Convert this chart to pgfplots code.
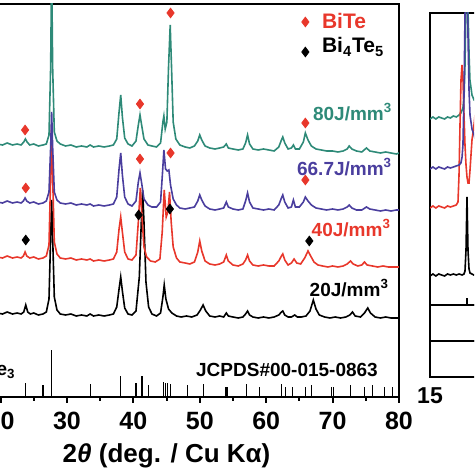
\documentclass[border=0pt]{standalone}
\usepackage{fontspec}
\setmainfont{Liberation Sans}
\usepackage{pgfplots}
\pgfplotsset{compat=1.18}
\definecolor{cgreen}{HTML}{2E8A78}
\definecolor{cblue}{HTML}{4A3E9E}
\definecolor{cred}{HTML}{E8372B}
\begin{document}
\begin{tikzpicture}
\useasboundingbox (0,0) rectangle (237pt,237pt);
\clip (0,0) rectangle (237pt,237pt);
% ---------------- main panel ----------------
\begin{axis}[
  at={(-32.95pt,38.5pt)}, anchor=south west, scale only axis,
  width=232.45pt, height=196.5pt,
  xmin=10, xmax=80, ymin=0, ymax=393,
  xtick={10,20,...,80}, minor x tick num=1, xtick pos=lower, tick align=outside,
  ytick=\empty,
  major tick length=3pt, minor tick length=2pt,
  every tick/.style={black, line width=1pt},
  axis line style={line width=1pt},
  /pgf/number format/assume math mode=true,
  xticklabel style={font=\fontsize{12.5}{14}\selectfont\bfseries, yshift=-1pt},
  xlabel={2\textit{θ} (deg. / Cu Kα)},
  xlabel style={font=\fontsize{13}{15}\selectfont\bfseries, at={(axis description cs:0.5,0)}, anchor=center, yshift=-29.5pt},
  clip=true,
]
% reference sticks (JCPDS#00-015-0863)
\addplot[ycomb, black, line width=0.55pt, mark=none] coordinates {
(23.8,14)(26.4,12)(27.7,47)(33.5,13)(38.0,21)(40.4,14)(41.3,21)(42.3,12)
(44.6,15)(44.9,14)(45.2,14)(45.6,13)(48.2,12)(50.5,13)(53.9,10)(54.1,10)
(57.1,13)(59.0,10)(62.3,13)(62.9,10)(64.0,10)(65.9,10)(66.8,12)(69.9,10)
(70.1,10)(72.7,12)(74.8,10)(76.0,12)(77.8,10)(79.0,10)};
% 20 J/mm3
\addplot[black, line width=0.8pt, mark=none] coordinates {
(19.5,84)(20.3,83)(21.0,85)(21.8,83)(22.5,84)(23.1,83)(23.5,85)(23.8,92)(24.1,85)(24.5,83)(25.0,84)(25.7,82)(26.4,83)(26.9,85)(27.3,98)(27.55,160)(27.7,197)(27.85,160)(28.1,100)(28.5,87)(29.0,83)(29.8,82)(30.6,83)(31.4,81)(32.2,82)(33.0,81)(33.5,83)(34.0,81)(34.8,82)(35.6,81)(36.4,82)(37.0,83)(37.5,90)(37.85,108)(38.1,120)(38.35,106)(38.7,89)(39.2,83)(39.8,82)(40.4,86)(40.9,120)(41.2,175)(41.4,207)(41.6,175)(41.9,115)(42.3,90)(42.8,83)(43.5,81)(44.1,84)(44.45,100)(44.65,112)(44.9,98)(45.3,88)(45.8,84)(46.5,81)(47.2,80)(48.0,81)(48.8,80)(49.6,82)(50.1,87)(50.5,92)(50.9,86)(51.5,81)(52.3,80)(53.0,81)(53.6,80)(54.0,84)(54.3,81)(55.0,80)(55.8,79)(56.5,80)(56.9,83)(57.2,86)(57.5,82)(58.0,80)(58.8,79)(59.6,80)(60.4,79)(61.2,80)(61.9,82)(62.3,85)(62.5,86)(62.8,82)(63.3,80)(63.8,80)(64.3,82)(64.7,80)(65.3,80)(66.0,81)(66.6,86)(67.1,97)(67.5,88)(68.0,82)(68.8,80)(69.6,79)(70.4,80)(71.2,79)(72.0,80)(72.6,82)(73.0,85)(73.4,81)(74.2,80)(74.8,84)(75.3,89)(75.7,84)(76.4,80)(77.2,79)(78.0,80)(78.8,79)(79.6,79)(80.0,79)};
% 40 J/mm3
\addplot[cred, line width=0.8pt, mark=none] coordinates {
(19.5,140)(20.3,139)(21.0,141)(21.8,139)(22.5,140)(23.1,139)(23.45,141)(23.7,145)(23.95,141)(24.4,139)(25.0,140)(25.7,138)(26.4,139)(26.9,141)(27.3,152)(27.55,220)(27.7,272)(27.85,220)(28.1,155)(28.5,143)(29.0,139)(29.8,138)(30.6,139)(31.4,137)(32.2,138)(33.0,137)(33.5,138)(34.0,136)(34.8,137)(35.6,136)(36.4,137)(37.0,138)(37.5,145)(37.85,168)(38.1,180)(38.35,165)(38.7,145)(39.2,138)(39.8,137)(40.4,142)(40.75,175)(41.05,209)(41.3,180)(41.6,150)(42.0,140)(42.6,136)(43.3,135)(44.0,138)(44.35,165)(44.65,207)(44.95,180)(45.2,185)(45.45,205)(45.7,175)(46.0,150)(46.5,139)(47.0,135)(47.8,134)(48.5,133)(49.2,135)(49.7,145)(50.0,156)(50.3,146)(50.8,136)(51.5,133)(52.3,132)(53.0,133)(53.6,135)(54.0,142)(54.3,136)(55.0,132)(55.8,131)(56.5,133)(56.9,137)(57.2,142)(57.5,136)(58.0,132)(58.8,131)(59.6,132)(60.4,131)(61.2,131)(61.9,136)(62.3,141)(62.5,143)(62.8,137)(63.3,132)(63.8,134)(64.2,138)(64.6,134)(65.2,133)(65.8,139)(66.3,146)(66.7,141)(67.2,135)(67.8,132)(68.5,131)(69.3,130)(70.0,131)(70.8,130)(71.6,131)(72.2,133)(72.7,136)(73.1,133)(73.8,131)(74.4,132)(74.8,135)(75.2,132)(76.0,131)(76.8,130)(77.6,131)(78.4,130)(79.2,130)(80.0,130)};
% 80 J/mm3
\addplot[cgreen, line width=0.8pt, mark=none] coordinates {
(19.5,253)(20.3,252)(21.0,254)(21.8,252)(22.5,253)(23.1,252)(23.5,255)(23.75,258)(24.0,255)(24.4,252)(25.0,253)(25.7,251)(26.4,252)(26.9,253)(27.3,262)(27.55,330)(27.7,430)(27.85,330)(28.1,265)(28.5,256)(29.0,253)(29.8,251)(30.6,252)(31.4,250)(32.2,251)(33.0,250)(33.5,252)(34.0,250)(34.8,251)(35.6,250)(36.4,251)(37.0,252)(37.5,258)(37.85,285)(38.1,302)(38.35,280)(38.7,259)(39.2,253)(39.8,251)(40.4,256)(40.75,272)(41.0,282)(41.25,272)(41.6,258)(42.2,252)(42.8,251)(43.5,250)(44.1,254)(44.45,275)(44.6,281)(44.8,268)(45.05,275)(45.3,330)(45.55,372)(45.75,330)(46.0,275)(46.4,258)(47.0,252)(47.8,250)(48.5,249)(49.2,251)(49.7,256)(50.0,262)(50.3,257)(50.8,251)(51.5,249)(52.3,248)(53.0,249)(53.6,250)(54.0,253)(54.3,249)(55.0,248)(55.8,247)(56.5,248)(56.9,254)(57.2,262)(57.5,253)(58.0,248)(58.8,247)(59.6,248)(60.4,247)(61.2,246)(61.9,250)(62.3,257)(62.5,260)(62.8,254)(63.3,248)(63.8,249)(64.1,252)(64.4,248)(65.0,248)(65.6,255)(65.9,264)(66.3,257)(66.8,251)(67.5,248)(68.3,247)(69.1,246)(70.0,246)(70.8,245)(71.6,246)(72.2,248)(72.5,251)(72.9,248)(73.6,246)(74.4,245)(75.1,249)(75.6,246)(76.4,245)(77.2,244)(78.0,245)(78.8,244)(79.6,243)(80.0,244)};
% 66.7 J/mm3
\addplot[cblue, line width=0.8pt, mark=none] coordinates {
(19.5,195)(20.3,194)(21.0,196)(21.8,194)(22.5,195)(23.1,194)(23.45,196)(23.7,199)(23.95,196)(24.4,194)(25.0,195)(25.7,193)(26.4,194)(26.9,196)(27.3,205)(27.55,250)(27.7,285)(27.85,250)(28.1,205)(28.5,197)(29.0,194)(29.8,193)(30.6,194)(31.4,192)(32.2,193)(33.0,192)(33.5,193)(34.0,191)(34.8,192)(35.6,191)(36.4,192)(37.0,193)(37.5,200)(37.85,228)(38.1,244)(38.35,222)(38.7,200)(39.2,193)(39.8,191)(40.4,196)(40.75,215)(41.0,224)(41.25,214)(41.6,198)(42.2,192)(42.8,190)(43.5,190)(44.1,195)(44.4,225)(44.6,247)(44.85,228)(45.1,226)(45.35,227)(45.6,212)(46.0,198)(46.5,192)(47.0,189)(47.8,188)(48.5,189)(49.2,190)(49.7,196)(50.0,202)(50.3,197)(50.8,191)(51.5,188)(52.3,187)(53.0,188)(53.6,189)(54.0,195)(54.3,190)(55.0,188)(55.8,187)(56.5,188)(56.9,196)(57.2,204)(57.5,195)(58.0,189)(58.8,188)(59.6,187)(60.4,188)(61.2,187)(61.9,192)(62.3,199)(62.5,202)(62.8,195)(63.3,189)(63.8,190)(64.1,197)(64.4,190)(65.0,190)(65.6,195)(65.9,200)(66.3,196)(66.8,192)(67.5,189)(68.3,188)(69.1,187)(70.0,188)(70.8,187)(71.6,188)(72.2,190)(72.5,192)(72.9,189)(73.6,187)(74.4,187)(75.1,190)(75.6,188)(76.4,187)(77.2,186)(78.0,187)(78.8,186)(79.6,187)(80.0,187)};
% phase markers
\addplot[only marks, mark=diamond*, mark size=2.4pt, color=cred] coordinates {
(23.7,267)(41.0,293)(45.6,384)(65.9,274)
(23.8,209)(41.0,238)(45.6,244)(65.9,217)
(65.9,375)};
\addplot[only marks, mark=diamond*, mark size=2.4pt, color=black] coordinates {
(23.8,157)(40.8,182)(45.5,188)(66.5,156)
(65.9,345)};
% texts
\node[anchor=west, inner sep=0pt, text=cred, font=\fontsize{10.5}{12}\selectfont\bfseries] at (axis cs:68.35,376) {BiTe};
\node[anchor=west, inner sep=0pt, text=black, font=\fontsize{10.5}{12}\selectfont\bfseries] at (axis cs:68.35,350) {Bi\textsubscript{4}Te\textsubscript{5}};
\node[anchor=west, inner sep=0pt, text=cgreen, font=\fontsize{9.5}{11}\selectfont\bfseries] at (axis cs:67.0,285) {80J/mm\textsuperscript{3}};
\node[anchor=west, inner sep=0pt, text=cblue, font=\fontsize{9.5}{11}\selectfont\bfseries] at (axis cs:64.6,230) {66.7J/mm\textsuperscript{3}};
\node[anchor=west, inner sep=0pt, text=cred, font=\fontsize{9.5}{11}\selectfont\bfseries] at (axis cs:66.8,169) {40J/mm\textsuperscript{3}};
\node[anchor=west, inner sep=0pt, text=black, font=\fontsize{9.5}{11}\selectfont\bfseries] at (axis cs:66.5,109) {20J/mm\textsuperscript{3}};
\node[anchor=west, inner sep=0pt, text=black, font=\fontsize{9.5}{11}\selectfont\bfseries] at (axis cs:49.4,27) {JCPDS\#00-015-0863};
\node[anchor=east, inner sep=0pt, text=black, font=\fontsize{9.5}{11}\selectfont\bfseries] at (axis cs:22.33,27) {Bi\textsubscript{2}Te\textsubscript{3}};
\end{axis}
% ---------------- right panel (zoom) ----------------
\begin{axis}[
  at={(215pt,84.5pt)}, anchor=south west, scale only axis,
  width=29.15pt, height=146pt,
  xmin=15, xmax=35, ymin=0, ymax=292,
  xtick=\empty, ytick=\empty,
  axis line style={line width=0.9pt}, clip=true,
]
\addplot[cgreen, line width=0.8pt, mark=none] coordinates {
(15,186)(16,188)(17,186)(18,188)(19,187)(20,186)(21,188)(22,187)(23,189)(24,188)(25,190)(25.6,192)(26.3,197)(26.7,210)(27.0,240)(27.35,300)(27.7,330)(28.0,300)(28.4,250)(28.7,225)(29.4,210)(30.1,205)(31,203)(32,200)(33,198)(35,195)};
\addplot[cred, line width=0.8pt, mark=none] coordinates {
(15,97)(16,99)(17,97)(18,99)(19,98)(20,97)(21,99)(22,98)(23,99)(24,100)(24.6,103)(24.95,130)(25.29,180)(25.63,225)(25.98,240)(26.32,225)(26.66,190)(27.0,160)(27.35,140)(27.69,128)(28.03,122)(28.38,122)(28.72,135)(29.4,165)(30.09,180)(30.8,200)(32,230)(35,250)};
\addplot[cblue, line width=0.8pt, mark=none] coordinates {
(15,136)(16,138)(17,136)(18,138)(19,137)(20,136)(21,138)(22,137)(23,138)(24,139)(25,140)(25.6,142)(26.0,148)(26.3,160)(26.66,210)(27.0,290)(27.35,320)(27.7,320)(28.03,270)(28.38,215)(28.72,190)(29.4,176)(30.1,170)(31,160)(32,152)(33,148)(35,142)};
\addplot[black, line width=0.8pt, mark=none] coordinates {
(15,29)(16,31)(17,29)(18,31)(19,30)(20,29)(21,31)(22,30)(23,31)(24,30)(25,31)(26,30)(26.66,31)(27.0,34)(27.35,55)(27.69,108)(28.03,55)(28.38,36)(28.72,32)(29.4,31)(30,30)(31,31)(32,30)(35,30)};
\addplot[ycomb, black, line width=0.55pt, mark=none] coordinates {(27.69,7)};
\end{axis}
\begin{axis}[
  at={(215pt,66.5pt)}, anchor=south west, scale only axis,
  width=29.15pt, height=18pt,
  xmin=15, xmax=35, ymin=0, ymax=1,
  xtick=\empty, ytick=\empty,
  axis line style={line width=0.9pt},
]
\addplot[draw=none, mark=none] coordinates {(15,0)};
\end{axis}
\begin{axis}[
  at={(215pt,48.5pt)}, anchor=south west, scale only axis,
  width=29.15pt, height=18pt,
  xmin=15, xmax=35, ymin=0, ymax=1,
  xtick={15}, ytick=\empty, major tick length=0pt,
  axis line style={line width=0.9pt},
  /pgf/number format/assume math mode=true,
  xticklabel style={font=\fontsize{11.5}{13}\selectfont\bfseries, yshift=-2pt},
]
\addplot[draw=none, mark=none] coordinates {(15,0)};
\end{axis}
\end{tikzpicture}
\end{document}
